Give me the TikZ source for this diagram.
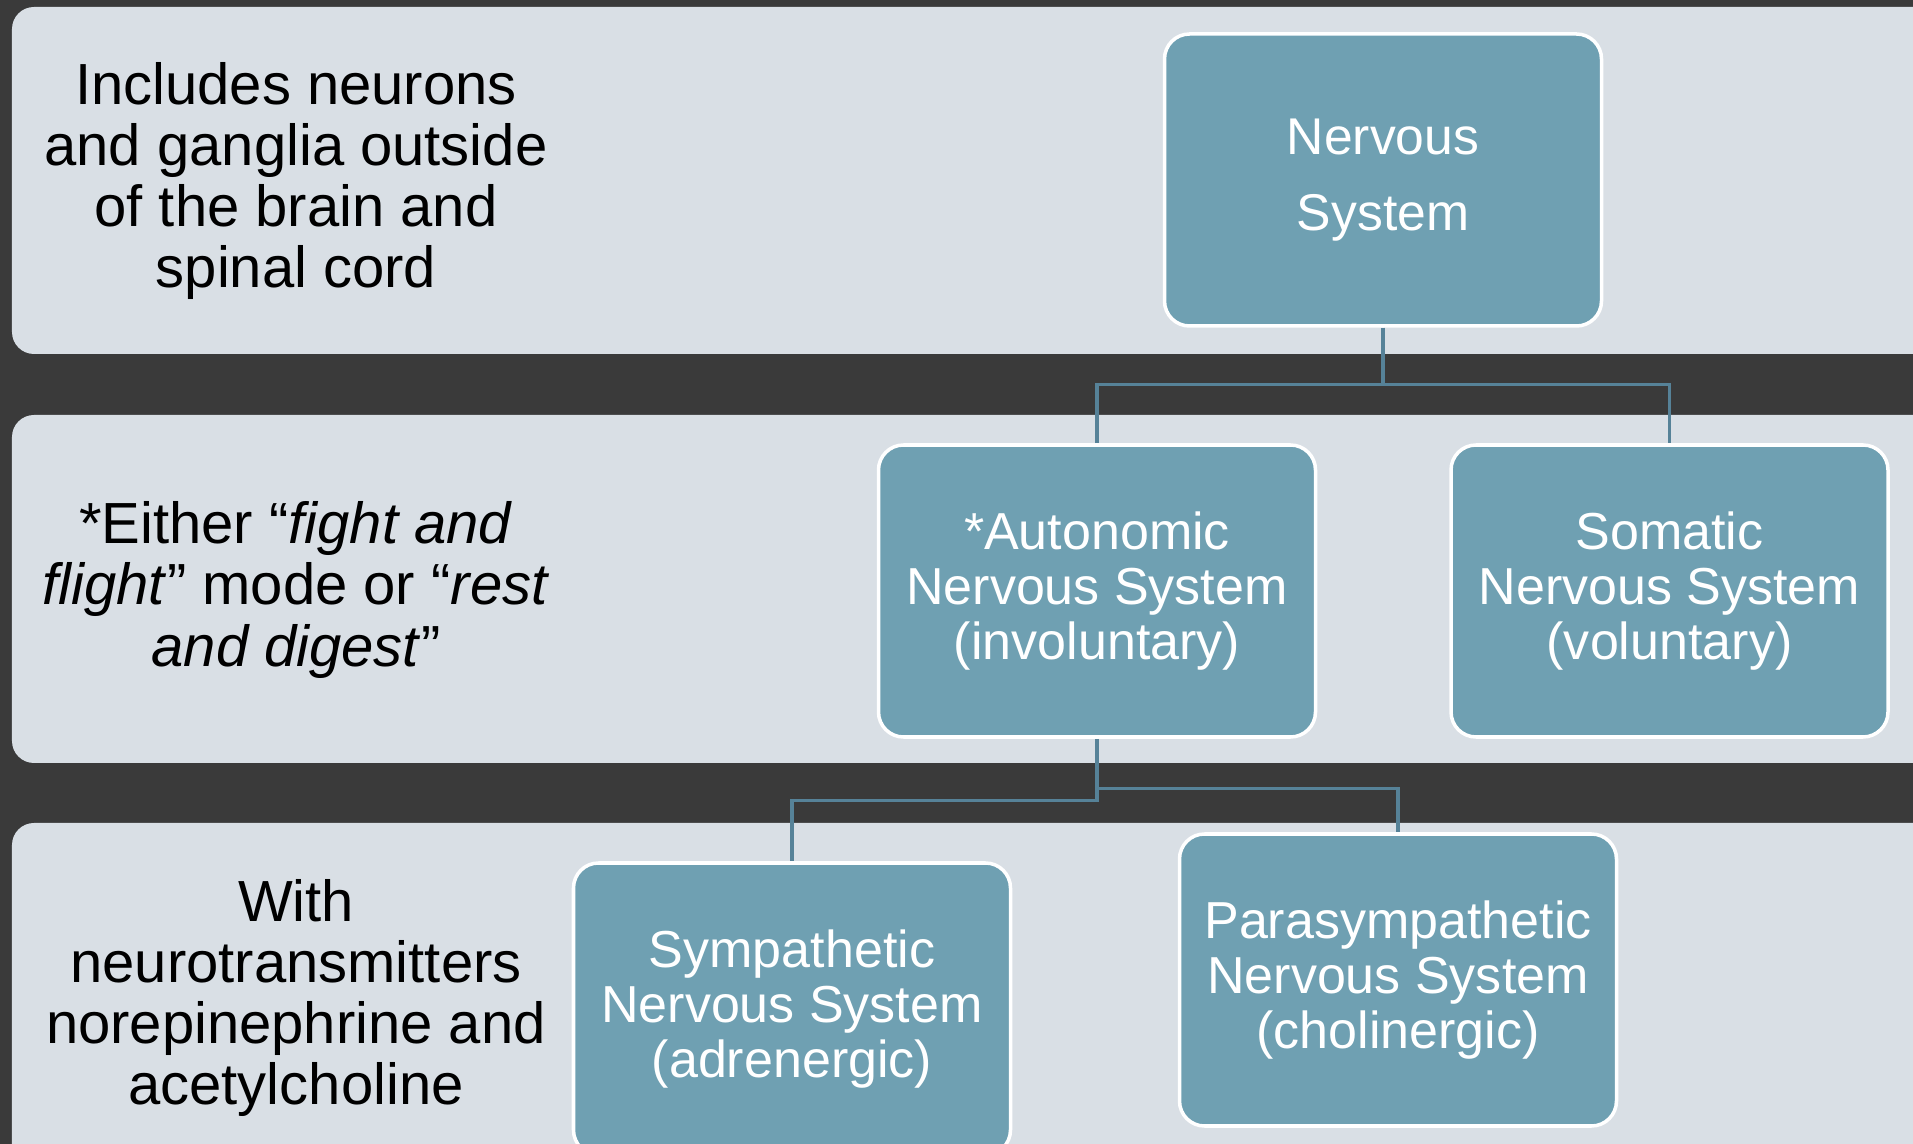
\documentclass[tikz,border=0pt]{standalone}
\usepackage{fontspec}
\setmainfont{Liberation Sans}
\usetikzlibrary{positioning}
\definecolor{slate}{RGB}{58,58,58}
\definecolor{band}{RGB}{217,223,229}
\definecolor{boxblue}{RGB}{111,160,178}
\definecolor{wirecol}{RGB}{86,130,152}

\begin{document}
\begin{tikzpicture}[
  sysbox/.style={rectangle, rounded corners=0.25cm, draw=white, line width=1pt, fill=boxblue,
    text=white, minimum width=4.37cm, minimum height=2.92cm, inner sep=0pt, align=center,
    font=\fontsize{14.8}{15.6}\selectfont},
  note/.style={align=center, font=\fontsize{16.5}{17.4}\selectfont},
  wire/.style={draw=wirecol, line width=0.9pt}]
\useasboundingbox (0,0) rectangle (19.13,-11.44);
\clip (0,0) rectangle (19.13,-11.44);
\fill[slate] (0,0) rectangle (19.13,-11.44);
\fill[band, rounded corners=0.22cm] (0.12,-0.07) rectangle (19.4,-3.54);
\fill[band, rounded corners=0.22cm] (0.12,-4.15) rectangle (19.4,-7.63);
\fill[band, rounded corners=0.22cm] (0.12,-8.23) rectangle (19.4,-11.8);

\node[sysbox, font=\fontsize{14.7}{21.6}\selectfont] (ns) at (13.83,-1.80) {Nervous\\System};
\node[sysbox] (ans) at (10.97,-5.91) {*Autonomic\\Nervous System\\(involuntary)};
\node[sysbox, right=1.32cm of ans] (sns) {Somatic\\Nervous System\\(voluntary)};
\node[sysbox] (sym) at (7.92,-10.09) {Sympathetic\\Nervous System\\(adrenergic)};
\node[sysbox] (para) at (13.98,-9.80) {Parasympathetic\\Nervous System\\(cholinergic)};

\node[note] (pns) at (2.96,-1.81) {Includes neurons\\and ganglia outside\\of the brain and\\spinal cord};
\node[note] (mode) at (2.96,-5.90) {*Either “\textit{fight and}\\\textit{flight}” mode or “\textit{rest}\\\textit{and digest}”};
\node[note] (chem) at (2.96,-9.98) {With\\neurotransmitters\\norepinephrine and\\acetylcholine};

\coordinate[below=0.57cm of ns.south] (top);
\coordinate[below=0.62cm of ans.south] (left);
\coordinate[below=0.50cm of ans.south] (right);
\draw[wire] (ns.south) -- (top);
\draw[wire] (ans.north) |- (top) -| (sns.north);
\draw[wire] (ans.south) -- (left) -| (sym.north);
\draw[wire] (right) -| (para.north);
\end{tikzpicture}
\end{document}
